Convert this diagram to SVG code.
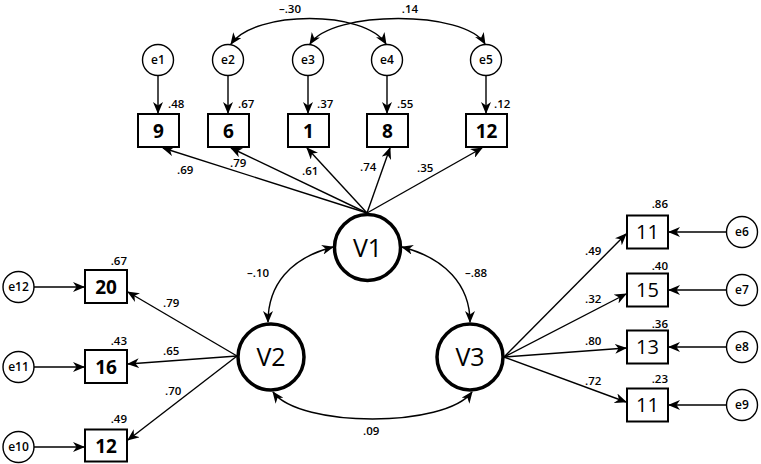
<svg xmlns="http://www.w3.org/2000/svg" width="761" height="464" viewBox="0 0 761 464">
<defs>
<marker id="ah" viewBox="0 0 12 10" markerWidth="12" markerHeight="10" refX="11" refY="5" orient="auto-start-reverse" markerUnits="userSpaceOnUse">
<path d="M0,0 L12,5 L0,10 L3.5,5 z" fill="#000"/>
</marker>
</defs>
<style>
text{font-family:"Open Sans","Noto Sans","DejaVu Sans",sans-serif;fill:#000}
.lbl{font-size:11.5px;font-weight:600}
.err{font-size:12px;font-weight:600;text-anchor:middle}
.box{fill:#fff;stroke:#000;stroke-width:2}
.bt{font-size:19px;font-weight:bold;text-anchor:middle}
.btr{font-size:20px;font-weight:normal;text-anchor:middle}
.ec{fill:#fff;stroke:#000;stroke-width:1.4}
.lc{fill:#fff;stroke:#000;stroke-width:3.5}
.lt{font-size:25px;text-anchor:middle}
.ln{fill:none;stroke:#000;stroke-width:1.4;marker-end:url(#ah)}
.cv{fill:none;stroke:#000;stroke-width:1.4;marker-start:url(#ah);marker-end:url(#ah)}
.end{text-anchor:end}
.mid{text-anchor:middle}
</style>
<rect width="761" height="464" fill="#fff"/>
<g id="connectors">
<line class="ln" x1="158" y1="76" x2="158" y2="113"/>
<line class="ln" x1="228" y1="76" x2="228" y2="113"/>
<line class="ln" x1="308" y1="76" x2="308" y2="113"/>
<line class="ln" x1="387" y1="76" x2="387" y2="113"/>
<line class="ln" x1="486" y1="76" x2="486" y2="113"/>
<path class="cv" d="M231,44 C255,10 365,10 386,44"/>
<path class="cv" d="M310,44 C332,10 465,10 485,44"/>
<line class="ln" x1="367" y1="213" x2="163" y2="148"/>
<line class="ln" x1="367" y1="213" x2="231" y2="148"/>
<line class="ln" x1="367" y1="213" x2="307" y2="148"/>
<line class="ln" x1="367" y1="213" x2="390" y2="148"/>
<line class="ln" x1="367" y1="213" x2="482" y2="148"/>
<path class="cv" d="M333,247 C290,258 268,285 268,322"/>
<path class="cv" d="M402,247 C445,258 470,285 470,322"/>
<path class="cv" d="M273,392 C300,428 445,428 472,392"/>
<line class="ln" x1="237" y1="356" x2="128" y2="292"/>
<line class="ln" x1="237" y1="356" x2="128" y2="364"/>
<line class="ln" x1="237" y1="356" x2="128" y2="440"/>
<line class="ln" x1="34" y1="287" x2="84" y2="287"/>
<line class="ln" x1="34" y1="367" x2="84" y2="367"/>
<line class="ln" x1="34" y1="447" x2="84" y2="447"/>
<line class="ln" x1="504" y1="357" x2="626" y2="234"/>
<line class="ln" x1="504" y1="357" x2="626" y2="294"/>
<line class="ln" x1="504" y1="357" x2="626" y2="348"/>
<line class="ln" x1="504" y1="357" x2="626" y2="402"/>
<line class="ln" x1="726" y1="232" x2="669" y2="232"/>
<line class="ln" x1="726" y1="290" x2="669" y2="290"/>
<line class="ln" x1="726" y1="347" x2="669" y2="347"/>
<line class="ln" x1="726" y1="405" x2="669" y2="405"/>
</g>
<g id="edge-labels">
<text class="lbl" x="168" y="108">.48</text>
<text class="lbl" x="238" y="108">.67</text>
<text class="lbl" x="317" y="108">.37</text>
<text class="lbl" x="397" y="108">.55</text>
<text class="lbl" x="494" y="108">.12</text>
<text class="lbl mid" x="290" y="13">–.30</text>
<text class="lbl mid" x="410" y="13">.14</text>
<text class="lbl" x="177" y="174">.69</text>
<text class="lbl" x="230" y="167">.79</text>
<text class="lbl" x="302" y="175">.61</text>
<text class="lbl" x="360" y="171">.74</text>
<text class="lbl" x="417" y="172">.35</text>
<text class="lbl end" x="127" y="265">.67</text>
<text class="lbl end" x="127" y="345">.43</text>
<text class="lbl end" x="127" y="423">.49</text>
<text class="lbl" x="163" y="307">.79</text>
<text class="lbl" x="163" y="355">.65</text>
<text class="lbl" x="165" y="395">.70</text>
<text class="lbl end" x="668" y="208">.86</text>
<text class="lbl end" x="668" y="270">.40</text>
<text class="lbl end" x="668" y="328">.36</text>
<text class="lbl end" x="668" y="383">.23</text>
<text class="lbl" x="585" y="255">.49</text>
<text class="lbl" x="585" y="303">.32</text>
<text class="lbl" x="585" y="345">.80</text>
<text class="lbl" x="585" y="385">.72</text>
<text class="lbl" x="247" y="277">–.10</text>
<text class="lbl" x="465" y="277">–.88</text>
<text class="lbl" x="363" y="435">.09</text>
</g>
<g id="e1"><circle class="ec" cx="158" cy="60" r="15.5"/><text class="err" x="158" y="64">e1</text></g>
<g id="e2"><circle class="ec" cx="228" cy="60" r="15.5"/><text class="err" x="228" y="64">e2</text></g>
<g id="e3"><circle class="ec" cx="308" cy="60" r="15.5"/><text class="err" x="308" y="64">e3</text></g>
<g id="e4"><circle class="ec" cx="387" cy="60" r="15.5"/><text class="err" x="387" y="64">e4</text></g>
<g id="e5"><circle class="ec" cx="486" cy="60" r="15.5"/><text class="err" x="486" y="64">e5</text></g>
<g id="item9"><rect class="box" x="138" y="114" width="41" height="33"/><text class="bt" x="158.5" y="137.5">9</text></g>
<g id="item6"><rect class="box" x="208" y="114" width="41" height="33"/><text class="bt" x="228.5" y="137.5">6</text></g>
<g id="item1"><rect class="box" x="288" y="114" width="41" height="33"/><text class="bt" x="308.5" y="137.5">1</text></g>
<g id="item8"><rect class="box" x="367" y="114" width="41" height="33"/><text class="bt" x="387.5" y="137.5">8</text></g>
<g id="item12a"><rect class="box" x="466" y="114" width="41" height="33"/><text class="bt" x="486.5" y="137.5">12</text></g>
<g id="V1"><circle class="lc" cx="367.5" cy="247.5" r="33"/><text class="lt" x="367.5" y="256.5">V1</text></g>
<g id="V2"><circle class="lc" cx="271" cy="357" r="33"/><text class="lt" x="271" y="366">V2</text></g>
<g id="V3"><circle class="lc" cx="470" cy="357" r="33"/><text class="lt" x="470" y="366">V3</text></g>
<g id="item20"><rect class="box" x="85" y="270" width="42" height="33"/><text class="bt" x="106" y="293.5">20</text></g>
<g id="item16"><rect class="box" x="85" y="350" width="42" height="33"/><text class="bt" x="106" y="373.5">16</text></g>
<g id="item12b"><rect class="box" x="85" y="429.5" width="42" height="32"/><text class="bt" x="106" y="452.5">12</text></g>
<g id="e12"><circle class="ec" cx="18.5" cy="287" r="15.5"/><text class="err" x="18.5" y="291">e12</text></g>
<g id="e11"><circle class="ec" cx="18.5" cy="367" r="15.5"/><text class="err" x="18.5" y="371">e11</text></g>
<g id="e10"><circle class="ec" cx="18.5" cy="447" r="15.5"/><text class="err" x="18.5" y="451">e10</text></g>
<g id="item11a"><rect class="box" x="627" y="215.5" width="41" height="33"/><text class="btr" x="647.5" y="239">11</text></g>
<g id="item15"><rect class="box" x="627" y="273.5" width="41" height="33"/><text class="btr" x="647.5" y="297">15</text></g>
<g id="item13"><rect class="box" x="627" y="330.5" width="41" height="33"/><text class="btr" x="647.5" y="354">13</text></g>
<g id="item11b"><rect class="box" x="627" y="388.5" width="41" height="33"/><text class="btr" x="647.5" y="412">11</text></g>
<g id="e6"><circle class="ec" cx="742" cy="232" r="15.5"/><text class="err" x="742" y="236">e6</text></g>
<g id="e7"><circle class="ec" cx="742" cy="290" r="15.5"/><text class="err" x="742" y="294">e7</text></g>
<g id="e8"><circle class="ec" cx="742" cy="347" r="15.5"/><text class="err" x="742" y="351">e8</text></g>
<g id="e9"><circle class="ec" cx="742" cy="405" r="15.5"/><text class="err" x="742" y="409">e9</text></g>
</svg>
